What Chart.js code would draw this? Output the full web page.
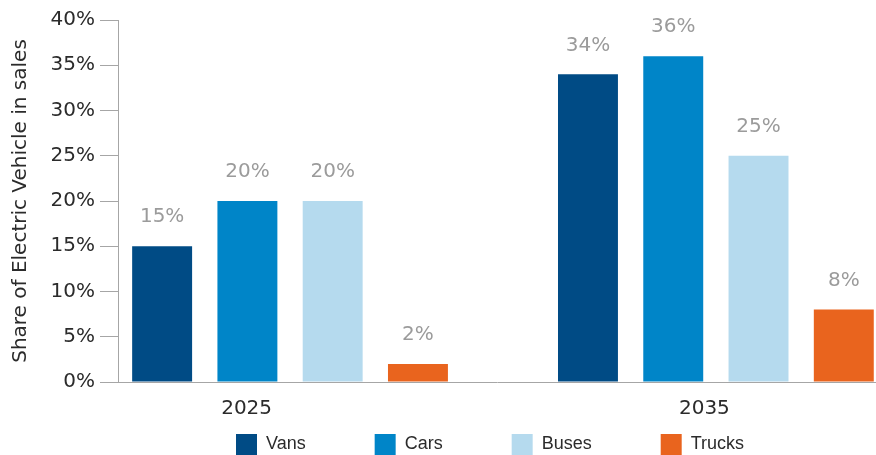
<!DOCTYPE html>
<html>
<head>
<meta charset="utf-8">
<script src="https://cdn.jsdelivr.net/npm/chart.js@4/dist/chart.umd.min.js"></script>
<style>
  html, body { margin: 0; padding: 0; background: #fff; overflow: hidden; }
  .wrap { position: relative; width: 876px; height: 455px; }
</style>
</head>
<body>
<div class="wrap"><canvas id="evChart"></canvas></div>
<script>
// EV share of sales by vehicle type
const years = ['2025', '2035'];
const seriesNames = ['Vans', 'Cars', 'Buses', 'Trucks'];
const vans = [15, 34];
const cars = [20, 36];
const buses = [20, 25];
const trucks = [2, 8];
const yTicks = [0, 5, 10, 15, 20, 25, 30, 35, 40];

const colors = ['#004b85', '#0085c8', '#b5daee', '#e9641e'];
// year labels sit a little left of their bar group
const yearLabelShift = [-0.102, -0.027];

const seriesValues = [vans, cars, buses, trucks];

const datasets = seriesNames.map((name, i) => ({
  label: name,
  data: seriesValues[i].map((v, j) => ({ x: j, y: v })),
  backgroundColor: colors[i],
  borderWidth: 0,
  categoryPercentage: 0.801,
  barPercentage: 0.703
}));

// percent labels above each bar
const valueLabels = {
  id: 'valueLabels',
  afterDatasetsDraw(chart) {
    const ctx = chart.ctx;
    ctx.save();
    ctx.font = "20px 'DejaVu Sans'";
    ctx.fillStyle = '#9b9b9b';
    ctx.textAlign = 'center';
    ctx.textBaseline = 'middle';
    chart.data.datasets.forEach((ds, i) => {
      chart.getDatasetMeta(i).data.forEach((bar, j) => {
        ctx.fillText(ds.data[j].y + '%', bar.x, bar.y - 29);
      });
    });
    ctx.restore();
  }
};

// move the legend row under the plot, shifted right
const legendPlacement = {
  id: 'legendPlacement',
  afterLayout(chart) {
    const lg = chart.legend;
    const pad = lg.options.labels.padding;
    lg.left += 52;
    lg.right += 52;
    lg.top = 434 - pad;
    lg.bottom = 455;
  }
};

Chart.defaults.font.family = "'DejaVu Sans'";
Chart.defaults.font.size = 20;
Chart.defaults.color = '#2b2b2b';

new Chart(document.getElementById('evChart'), {
  type: 'bar',
  data: { datasets },
  plugins: [valueLabels, legendPlacement],
  options: {
    responsive: true,
    maintainAspectRatio: false,
    animation: false,
    layout: { padding: { top: 20, right: 0, bottom: 0, left: 0 } },
    scales: {
      x: {
        type: 'linear',
        offset: false,
        min: -0.404,
        max: 1.376,
        afterBuildTicks: (scale) => {
          scale.ticks = years.map((y, i) => ({ value: i + yearLabelShift[i] }));
        },
        ticks: {
          padding: 15,
          maxRotation: 0,
          callback: (v, i) => years[i]
        },
        grid: { display: false, drawTicks: false },
        border: { display: true, color: '#a6a6a6', width: 1 }
      },
      y: {
        min: 0,
        max: 40,
        afterBuildTicks: (scale) => {
          scale.ticks = yTicks.map(v => ({ value: v }));
        },
        afterFit: (scale) => { scale.width = 118; },
        ticks: {
          padding: 5,
          callback: v => v + '%'
        },
        grid: {
          drawOnChartArea: false,
          drawTicks: true,
          tickLength: 18,
          color: '#a6a6a6'
        },
        border: { display: true, color: '#a6a6a6', width: 1 },
        title: {
          display: true,
          text: 'Share of Electric Vehicle in sales',
          font: { size: 20 },
          color: '#2b2b2b',
          padding: { top: 9, bottom: 0 }
        }
      }
    },
    plugins: {
      tooltip: { enabled: false },
      legend: {
        position: 'bottom',
        maxHeight: 19,
        labels: {
          font: { family: "'Liberation Sans', Arial", size: 18 },
          color: '#2b2b2b',
          boxWidth: 21,
          boxHeight: 21,
          padding: 69
        }
      }
    }
  }
});
</script>
</body>
</html>
